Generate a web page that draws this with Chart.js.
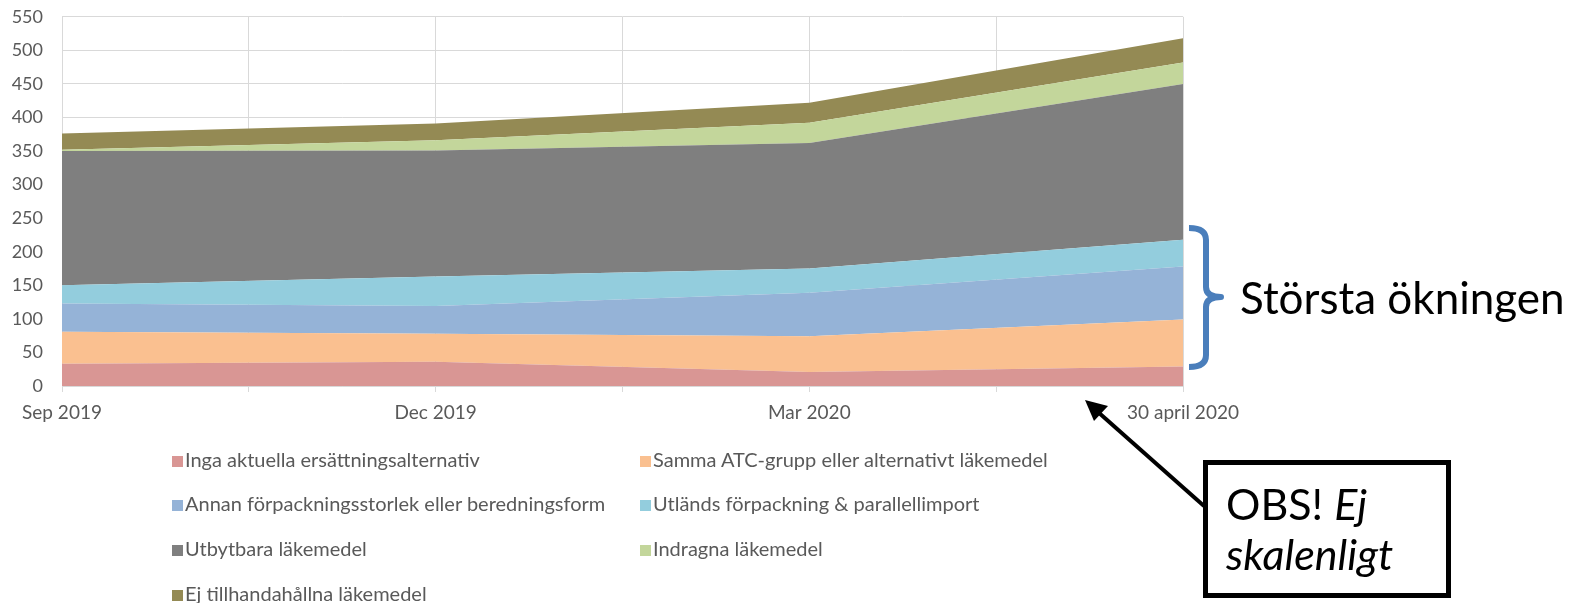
<!DOCTYPE html>
<html>
<head>
<meta charset="utf-8">
<script src="https://cdn.jsdelivr.net/npm/chart.js@4/dist/chart.umd.min.js"></script>
<style>
  body { margin: 0; background: #fff; font-family: Lato, sans-serif; }
  #wrap { position: relative; width: 1574px; height: 603px; overflow: hidden; }
  #chart { position: absolute; left: 0; top: -13px; }
  .leg { position: absolute; font-size: 20px; color: #595959; white-space: nowrap; line-height: 22px; }
  .leg span { display: inline-block; width: 11px; height: 11px; margin-right: 2px; vertical-align: 0px; }
  #note { position: absolute; left: 1240px; top: 271px; font-size: 44px; color: #000; white-space: nowrap; }
  #box { position: absolute; left: 1203px; top: 460px; width: 248px; height: 138px; border: 5px solid #000;
         font-size: 43px; line-height: 50px; padding: 14px 0 0 18px; box-sizing: border-box; white-space: nowrap; }
  #overlay { position: absolute; left: 0; top: 0; }
</style>
</head>
<body>
<div id="wrap">
  <canvas id="chart" width="1574" height="603"></canvas>
  <svg id="overlay" width="1574" height="603">
    <path d="M1189 228 Q1206 228 1206 240 L1206 287 Q1206 297 1221 297 Q1206 297 1206 307 L1206 355 Q1206 367 1189 367"
          fill="none" stroke="#4a7ebb" stroke-width="6" stroke-linejoin="round"/>
    <line x1="1204" y1="506" x2="1098" y2="412" stroke="#000" stroke-width="4"/>
    <polygon points="1085,400 1108,406 1094,421" fill="#000"/>
  </svg>
  <div id="note">Största ökningen</div>
  <div id="box">OBS! <i>Ej</i><br><i>skalenligt</i></div>
</div>
<script>
const xPos = [0, 1, 2, 3];
const xLabels = ['Sep 2019', 'Dec 2019', 'Mar 2020', '30 april 2020'];

const seriesNames = [
  'Inga aktuella ersättningsalternativ',
  'Samma ATC-grupp eller alternativt läkemedel',
  'Annan förpackningsstorlek eller beredningsform',
  'Utländs förpackning & parallellimport',
  'Utbytbara läkemedel',
  'Indragna läkemedel',
  'Ej tillhandahållna läkemedel'
];
const ingaAktuella   = [33, 36, 21, 29];
const sammaAtc       = [48, 42, 53, 70];
const annanForp      = [42, 41, 65, 79];
const utlandsForp    = [27, 44, 36, 40];
const utbytbara      = [200, 188, 187, 232];
const indragna       = [2, 15, 30, 32];
const ejTillhanda    = [24, 25, 30, 36];
const seriesValues = [ingaAktuella, sammaAtc, annanForp, utlandsForp, utbytbara, indragna, ejTillhanda];
const colors = ['#d99694', '#fac090', '#95b3d7', '#93cddd', '#7f7f7f', '#c3d69b', '#948a54'];

const datasets = seriesNames.map((name, i) => ({
  label: name,
  data: seriesValues[i].map((v, j) => ({ x: xPos[j], y: v })),
  backgroundColor: colors[i],
  borderColor: colors[i],
  borderWidth: 0,
  pointRadius: 0,
  fill: i === 0 ? 'origin' : '-1',
  tension: 0
}));

const ctx = document.getElementById('chart').getContext('2d');
const chart = new Chart(ctx, {
  type: 'line',
  data: { datasets: datasets },
  options: {
    responsive: false,
    animation: false,
    layout: { padding: { left: 0, right: 391, top: 6, bottom: 162 } },
    plugins: { legend: { display: false }, tooltip: { enabled: false } },
    scales: {
      x: {
        type: 'linear',
        min: 0,
        max: 3,
        ticks: {
          stepSize: 0.5,
          autoSkip: false,
          maxRotation: 0,
          padding: 9,
          color: '#595959',
          font: { family: 'Lato', size: 19 },
          callback: v => Number.isInteger(v) ? xLabels[v] : ''
        },
        grid: { color: '#d9d9d9', tickLength: 6 },
        border: { color: '#d9d9d9' },
        afterFit: s => { s.height = 42; }
      },
      y: {
        stacked: true,
        min: 0,
        max: 550,
        ticks: {
          stepSize: 50,
          padding: 19,
          color: '#595959',
          font: { family: 'Lato', size: 18 }
        },
        grid: { color: '#d9d9d9', drawTicks: false },
        border: { display: false },
        afterFit: s => { s.width = 62; }
      }
    }
  }
});

// legend in two columns under the chart
const wrap = document.getElementById('wrap');
const colX = [172, 640];
const rowY = [448, 492, 537, 582];
chart.data.datasets.forEach((ds, i) => {
  const d = document.createElement('div');
  d.className = 'leg';
  d.style.left = colX[i % 2] + 'px';
  d.style.top = rowY[Math.floor(i / 2)] + 'px';
  d.innerHTML = '<span style="background:' + ds.backgroundColor + '"></span>' + ds.label;
  wrap.appendChild(d);
});
</script>
</body>
</html>
